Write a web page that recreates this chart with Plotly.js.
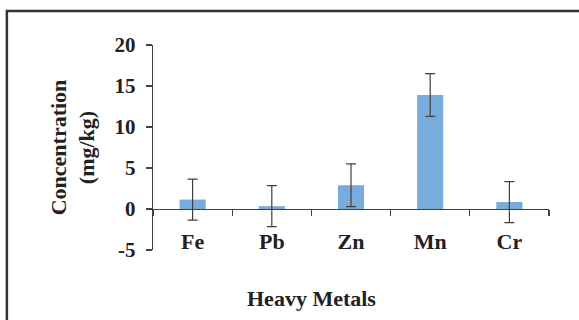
<!DOCTYPE html>
<html>
<head>
<meta charset="utf-8">
<script src="https://cdn.plot.ly/plotly-3.0.1.min.js"></script>
<style>html,body{margin:0;padding:0;background:#fff;}#chart{width:579px;height:320px;}</style>
</head>
<body>
<div id="chart"></div>
<script>
var metals = ['Fe', 'Pb', 'Zn', 'Mn', 'Cr'];
var concentration = [1.15, 0.35, 2.9, 13.9, 0.85];
var errorValues = [2.5, 2.5, 2.6, 2.6, 2.5];
var yTickValues = [-5, 0, 5, 10, 15, 20];
var xTitle = 'Heavy Metals';
var yTitle = 'Concentration<br>(mg/kg)';

var fontFam = 'Liberation Serif, Times New Roman, serif';

var traces = [{
  type: 'bar',
  x: metals,
  y: concentration,
  width: 0.33,
  marker: {color: '#78acdc'},
  error_y: {type: 'data', array: errorValues, visible: true, color: '#404040', thickness: 1.2, width: 5},
  hoverinfo: 'skip',
  xaxis: 'x',
  yaxis: 'y'
}, {
  type: 'bar',
  x: metals,
  y: [null, null, null, null, null],
  xaxis: 'x2',
  yaxis: 'y',
  showlegend: false,
  hoverinfo: 'skip'
}];

var layout = {
  width: 579,
  height: 320,
  margin: {l: 153, r: 30, t: 45, b: 70},
  paper_bgcolor: '#ffffff',
  plot_bgcolor: 'rgba(0,0,0,0)',
  showlegend: false,
  font: {family: fontFam, color: '#1a1a1a'},
  xaxis: {
    type: 'category',
    range: [-0.5, 4.5],
    anchor: 'free',
    position: 0.118,
    showline: false,
    ticks: '',
    showgrid: false,
    zeroline: false,
    tickfont: {family: fontFam, size: 22, color: '#222', weight: 'bold'}
  },
  xaxis2: {
    type: 'category',
    range: [-0.5, 4.5],
    overlaying: 'x',
    anchor: 'free',
    position: 0.2,
    side: 'bottom',
    showline: true,
    linecolor: '#404040',
    linewidth: 1.2,
    ticks: 'outside',
    tickson: 'boundaries',
    ticklen: 6,
    tickcolor: '#404040',
    tickwidth: 1.2,
    showticklabels: false,
    showgrid: false,
    zeroline: false,
    matches: 'x'
  },
  yaxis: {
    range: [-5, 20],
    tickvals: yTickValues,
    ticktext: yTickValues.map(String),
    showline: true,
    linecolor: '#404040',
    linewidth: 1.2,
    ticks: 'outside',
    ticklen: 6,
    tickcolor: '#404040',
    tickwidth: 1.2,
    showgrid: false,
    zeroline: false,
    tickfont: {family: fontFam, size: 21, color: '#222', weight: 'bold'},
    ticklabelstandoff: 6,
    title: {text: '<b>' + yTitle + '</b>', font: {family: fontFam, size: 22, color: '#222'}, standoff: 13}
  },
  annotations: [{
    text: '<b>' + xTitle + '</b>',
    xref: 'paper', yref: 'paper',
    x: 0.40, y: -0.237,
    xanchor: 'center', yanchor: 'middle',
    showarrow: false,
    font: {family: fontFam, size: 22, color: '#222'}
  }],
  shapes: [{
    type: 'rect', xref: 'paper', yref: 'paper',
    x0: -0.369, x1: 2, y0: -1, y1: 1.166,
    line: {color: '#333333', width: 2.5},
    fillcolor: 'rgba(0,0,0,0)',
    layer: 'below'
  }]
};

Plotly.newPlot('chart', traces, layout, {displayModeBar: false, staticPlot: true});
</script>
</body>
</html>
